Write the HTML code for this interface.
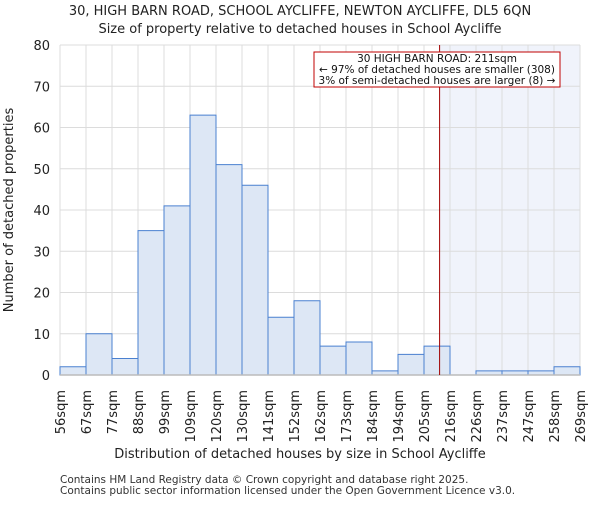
<!DOCTYPE html>
<html><head><meta charset="utf-8"><style>body{margin:0;background:#fff}svg{font-family:"DejaVu Sans","Liberation Sans",sans-serif}</style></head>
<body>
<svg id="c" width="600" height="500"></svg>
<script>
const binLabels=["56sqm","67sqm","77sqm","88sqm","99sqm","109sqm","120sqm","130sqm","141sqm","152sqm","162sqm","173sqm","184sqm","194sqm","205sqm","216sqm","226sqm","237sqm","247sqm","258sqm","269sqm"];
const counts=[2,10,4,35,41,63,51,46,14,18,7,8,1,5,7,0,1,1,1,2];
const yTicks=[0,10,20,30,40,50,60,70,80];
const markerPos=14.6;
const X0=60,X1=580,Y0=375,Y1=45,ymax=80;
const bw=(X1-X0)/counts.length;
const x=i=>X0+i*bw, y=v=>Y0-(v/ymax)*(Y0-Y1);
const s=document.getElementById('c');const NS='http://www.w3.org/2000/svg';
function mk(t,a,txt){const e=document.createElementNS(NS,t);for(const k in a)e.setAttribute(k,a[k]);if(txt!=null)e.textContent=txt;s.appendChild(e);return e;}
let e;
e=mk('rect',{x:x(markerPos),y:Y1,width:X1-x(markerPos),height:Y0-Y1,fill:'#f0f3fb'});


yTicks.forEach(v=>{e=mk('line',{x1:X0,x2:X1,y1:y(v),y2:y(v),stroke:'#dcdcdc'});


e=mk('text',{x:50,y:y(v)+5,'text-anchor':'end','font-size':13,fill:'#222'},v);

});
binLabels.forEach((l,i)=>{e=mk('line',{x1:x(i),x2:x(i),y1:Y1,y2:Y0,stroke:'#dcdcdc'});


e=mk('text',{transform:`translate(${x(i)+5},390) rotate(-90)`,'text-anchor':'end','font-size':13,fill:'#222'},l);

});
counts.forEach((v,i)=>{if(v<=0)return;e=mk('rect',{x:x(i),y:y(v),width:bw,height:Y0-y(v),fill:'#dde7f5',stroke:'#4a80d0','stroke-width':1});

});
e=mk('line',{x1:X0,x2:X1,y1:Y0,y2:Y0,stroke:'#bbb','stroke-width':1.5});


e=mk('line',{x1:x(markerPos),x2:x(markerPos),y1:Y1,y2:Y0,stroke:'#a00000','stroke-width':1});


e=mk('rect',{x:314,y:52,width:246,height:35,fill:'#fff',stroke:'#c00000'});


[["30 HIGH BARN ROAD: 211sqm",62],["← 97% of detached houses are smaller (308)",73],["3% of semi-detached houses are larger (8) →",84]].forEach(([t,yy])=>{e=mk('text',{x:437,y:yy,'text-anchor':'middle','font-size':10.5,fill:'#111'},t);

});
e=mk('text',{x:300,y:15,'text-anchor':'middle','font-size':13,fill:'#222'},'30, HIGH BARN ROAD, SCHOOL AYCLIFFE, NEWTON AYCLIFFE, DL5 6QN');


e=mk('text',{x:300,y:33,'text-anchor':'middle','font-size':13,fill:'#222'},'Size of property relative to detached houses in School Aycliffe');


e=mk('text',{x:300,y:458,'text-anchor':'middle','font-size':13,fill:'#222'},'Distribution of detached houses by size in School Aycliffe');


e=mk('text',{transform:'translate(13,210) rotate(-90)','text-anchor':'middle','font-size':13,fill:'#222'},'Number of detached properties');


e=mk('text',{x:60,y:483,'font-size':10.5,fill:'#333'},'Contains HM Land Registry data © Crown copyright and database right 2025.');


e=mk('text',{x:60,y:494,'font-size':10.5,fill:'#333'},'Contains public sector information licensed under the Open Government Licence v3.0.');


</script>
</body></html>
